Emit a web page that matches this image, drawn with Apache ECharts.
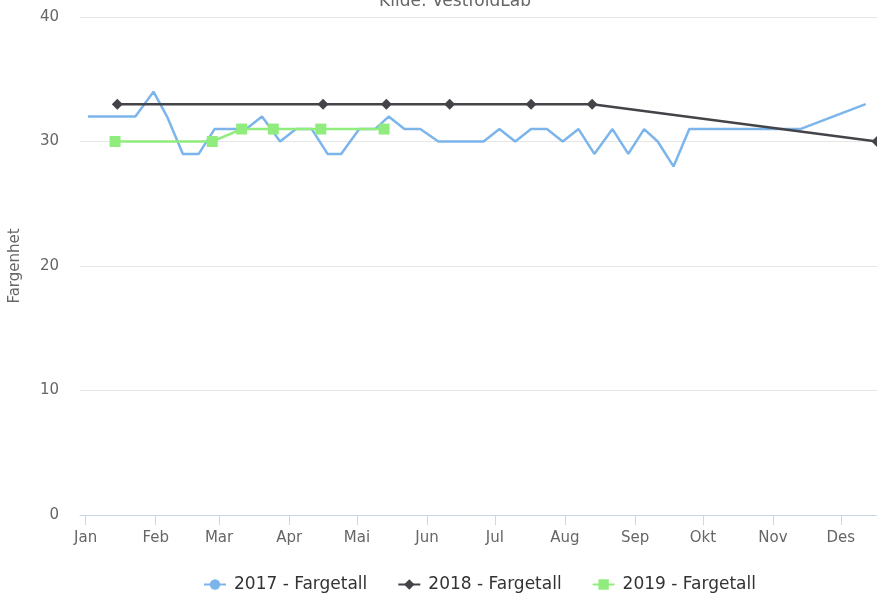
<!DOCTYPE html>
<html>
<head>
<meta charset="utf-8">
<script src="https://cdn.jsdelivr.net/npm/echarts@6/dist/echarts.min.js"></script>
<style>
html,body{margin:0;padding:0;background:#fff;}
#chart{width:877px;height:599px;}
</style>
</head>
<body>
<div id="chart"></div>
<script>
// ---- data ----
const monthLabels = ['Jan','Feb','Mar','Apr','Mai','Jun','Jul','Aug','Sep','Okt','Nov','Des'];
const yTicks = [0, 10, 20, 30, 40];
const seriesNames = ['2017 - Fargetall', '2018 - Fargetall', '2019 - Fargetall'];

const dates2017 = ['01-02','01-09','01-16','01-23','01-31','02-06','02-13','02-20','02-27','03-06',
  '03-13','03-20','03-28','04-04','04-11','04-18','04-24','05-02','05-09','05-15',
  '05-22','05-29','06-06','06-12','06-19','06-26','07-03','07-10','07-17','07-24',
  '07-31','08-07','08-14','08-22','08-29','09-05','09-11','09-18','09-25','11-13','12-12'];
const values2017 = [32,32,32,32,34,32,29,29,31,31,
  31,32,30,31,31,29,29,31,31,32,
  31,31,30,30,30,30,31,30,31,31,
  30,31,29,31,29,31,30,28,31,31,33];

const dates2018 = ['01-15','04-16','05-14','06-11','07-17','08-13','12-17'];
const values2018 = [33,33,33,33,33,33,30];

const dates2019 = ['01-14','02-26','03-11','03-25','04-15','05-13'];
const values2019 = [30,30,31,31,31,31];

// all series are plotted on a common (month/day) axis, measured in days of the year
const BASE_YEAR = 2017;
const DAY = 86400000;
const Y0 = Date.UTC(BASE_YEAR, 0, 1);
function dayOf(md){ const p = md.split('-'); return (Date.UTC(BASE_YEAR, +p[0]-1, +p[1]) - Y0) / DAY; }
function pairs(d, v){ return d.map((x,i)=>[dayOf(x), v[i]]); }
const monthStarts = monthLabels.map((_,i)=>(Date.UTC(BASE_YEAR, i, 1) - Y0) / DAY);

const chart = echarts.init(document.getElementById('chart'), null, {renderer:'canvas'});
const FONT = 'DejaVu Sans';
chart.setOption({
  animation: false,
  backgroundColor: '#ffffff',
  textStyle: { fontFamily: FONT },
  title: {
    text: 'Kilde: VestfoldLab',
    left: 455, top: -7, textAlign: 'center', padding: 0,
    textStyle: { fontSize: 17, fontWeight: 'normal', color: '#666666', fontFamily: FONT }
  },
  grid: { left: 78, right: 0, top: 17, bottom: 84, containLabel: false },
  legend: {
    left: 203, top: 576, padding: 0,
    itemWidth: 22, itemHeight: 13, itemGap: 30,
    textStyle: { fontSize: 17, color: '#333333', fontFamily: FONT, padding: [0,0,0,3] },
    data: seriesNames
  },
  xAxis: {
    type: 'value',
    min: -2.5,
    max: dayOf('12-17'),
    splitLine: { show: false },
    axisLine: { lineStyle: { color: '#ccd6eb', width: 1 } },
    axisTick: { show: true, length: 10, lineStyle: { color: '#ccd6eb' }, customValues: monthStarts },
    axisLabel: {
      customValues: monthStarts,
      color: '#666666', fontSize: 15, fontFamily: FONT, margin: 16,
      formatter: function(v){ return monthLabels[new Date(Y0 + v*DAY).getUTCMonth()]; }
    }
  },
  yAxis: {
    type: 'value', min: yTicks[0], max: yTicks[yTicks.length-1], interval: 10,
    name: 'Fargenhet', nameLocation: 'middle', nameGap: 57,
    nameTextStyle: { color: '#666666', fontSize: 15, fontFamily: FONT },
    axisLine: { show: false }, axisTick: { show: false },
    axisLabel: { color: '#666666', fontSize: 15, fontFamily: FONT, margin: 21 },
    splitLine: { lineStyle: { color: '#e6e6e6', width: 1 } }
  },
  series: [
    { name: seriesNames[0], type: 'line', data: pairs(dates2017, values2017),
      color: '#7cb5ec', symbol: 'circle', symbolSize: 10, showSymbol: false,
      lineStyle: { width: 2.5, color: '#7cb5ec' } },
    { name: seriesNames[1], type: 'line', data: pairs(dates2018, values2018),
      color: '#434348', symbol: 'diamond', symbolSize: 11,
      itemStyle: { color: '#434348' },
      lineStyle: { width: 2.5, color: '#434348' } },
    { name: seriesNames[2], type: 'line', data: pairs(dates2019, values2019),
      color: '#90ed7d', symbol: 'rect', symbolSize: 11,
      itemStyle: { color: '#90ed7d' },
      lineStyle: { width: 2.5, color: '#90ed7d' } }
  ]
});
</script>
</body>
</html>
